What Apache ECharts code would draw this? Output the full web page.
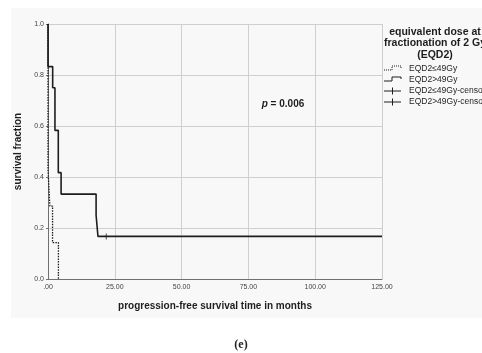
<!DOCTYPE html>
<html>
<head>
<meta charset="utf-8">
<script src="https://cdn.jsdelivr.net/npm/echarts@6/dist/echarts.min.js"></script>
<style>
  html, body { margin: 0; padding: 0; background: #fff; }
  #chart { width: 482px; height: 353px; }
</style>
</head>
<body>
<div id="chart"></div>
<script>
// Kaplan–Meier step points: [time in months, survival fraction]
const lowDoseCurve = [[0, 1], [0, 0.429], [0.7, 0.286], [1.7, 0.143], [3.9, 0]];
const highDoseCurve = [[0, 1], [0, 0.833], [1.75, 0.75], [2.6, 0.583], [3.85, 0.417],
                       [4.9, 0.333], [18, 0.25], [18.7, 0.167], [125, 0.167]];
// censored observations
const lowDoseCensored = [];
const highDoseCensored = [[21.8, 0.167]];

const seriesNames = ['EQD2\u226449Gy', 'EQD2>49Gy', 'EQD2\u226449Gy-censored', 'EQD2>49Gy-censored'];
const legendTitle = ['equivalent dose at', 'fractionation of 2 Gy', '(EQD2)'];
const xTicks = { min: 0, max: 125, interval: 25 };
const yTicks = { min: 0, max: 1, interval: 0.2 };

const FONT = '"Liberation Sans", Arial, Helvetica, sans-serif';
const INK = '#1e1e1e';

// legend key glyphs (step line for curves, cross for censor marks)
const LEG_X = 384, LEG_W = 17, LEG_TOP = 64, LEG_ROW = 11;
function stepKey(row, dashed) {
  const yMid = LEG_TOP + row * LEG_ROW + 4;
  return {
    type: 'polyline', z: 10, silent: true,
    shape: { points: [[LEG_X, yMid + 2], [LEG_X + 8, yMid + 2], [LEG_X + 8, yMid - 2],
                      [LEG_X + LEG_W, yMid - 2], [LEG_X + LEG_W, yMid]] },
    style: { stroke: INK, lineWidth: 1, fill: null, lineDash: dashed ? [1, 1] : null }
  };
}
function crossKey(row) {
  const yMid = LEG_TOP + row * LEG_ROW + 5;
  return {
    type: 'group', z: 10, silent: true,
    children: [
      { type: 'line', shape: { x1: LEG_X, y1: yMid, x2: LEG_X + LEG_W, y2: yMid },
        style: { stroke: INK, lineWidth: 1 } },
      { type: 'line', shape: { x1: LEG_X + 8.5, y1: yMid - 3.5, x2: LEG_X + 8.5, y2: yMid + 3.5 },
        style: { stroke: INK, lineWidth: 1 } }
    ]
  };
}

const chart = echarts.init(document.getElementById('chart'), null, { renderer: 'canvas' });

chart.setOption({
  backgroundColor: '#ffffff',
  animation: false,
  grid: { left: 48, right: 100, top: 24, bottom: 74, containLabel: false },
  xAxis: {
    type: 'value',
    min: xTicks.min, max: xTicks.max, interval: xTicks.interval,
    name: 'progression-free survival time in months',
    nameLocation: 'middle', nameGap: 22,
    nameTextStyle: { fontFamily: FONT, fontWeight: 'bold', fontSize: 10, color: INK },
    axisLine: { lineStyle: { color: '#707070', width: 1 } },
    axisTick: { show: false },
    axisLabel: {
      fontFamily: FONT, fontSize: 7, color: '#444', margin: 5,
      formatter: v => v === 0 ? '.00' : v.toFixed(2)
    },
    splitLine: { show: true, lineStyle: { color: '#cfcfcf', width: 1 } }
  },
  yAxis: {
    type: 'value',
    min: yTicks.min, max: yTicks.max, interval: yTicks.interval,
    name: 'survival fraction',
    nameLocation: 'middle', nameGap: 21,
    nameTextStyle: { fontFamily: FONT, fontWeight: 'bold', fontSize: 10, color: INK },
    axisLine: { show: true, lineStyle: { color: '#707070', width: 1 } },
    axisTick: { show: true, length: 2, lineStyle: { color: '#707070' } },
    axisLabel: {
      fontFamily: FONT, fontSize: 7, color: '#444', margin: 4,
      formatter: v => v.toFixed(1)
    },
    splitLine: { show: true, lineStyle: { color: '#cfcfcf', width: 1 } }
  },
  legend: {
    orient: 'vertical',
    left: LEG_X, top: LEG_TOP,
    padding: 0,
    itemWidth: LEG_W, itemHeight: 8, itemGap: 2,
    icon: 'rect',
    itemStyle: { opacity: 0 },
    textStyle: { fontFamily: FONT, fontSize: 8.5, color: INK, padding: [0, 0, 0, 3] },
    data: seriesNames
  },
  graphic: {
    elements: [
      { type: 'rect', z: -100, silent: true,
        shape: { x: 11, y: 8, width: 471, height: 310 },
        style: { fill: '#f8f8f8' } },
      { type: 'text', x: 435, y: 26, z: 10, silent: true,
        style: { text: legendTitle.join('\n'), align: 'center', verticalAlign: 'top',
                 font: 'bold 10.5px ' + FONT, fill: INK, lineHeight: 11.5 } },
      stepKey(0, true),
      stepKey(1, false),
      crossKey(2),
      crossKey(3),
      { type: 'text', x: 283, y: 104, z: 10, silent: true,
        style: {
          text: '{i|p} = 0.006',
          align: 'center', verticalAlign: 'middle',
          rich: { i: { fontStyle: 'italic', fontWeight: 'bold', fontSize: 10, fontFamily: FONT, fill: INK } },
          font: 'bold 10px ' + FONT, fill: INK
        } },
      { type: 'text', x: 241, y: 345, z: 10, silent: true,
        style: { text: '(e)', align: 'center', verticalAlign: 'middle',
                 font: 'bold 12px "Liberation Serif", "DejaVu Serif", serif', fill: '#222' } }
    ]
  },
  series: [
    {
      name: seriesNames[1], type: 'line', step: 'end', data: highDoseCurve,
      symbol: 'none', z: 3,
      lineStyle: { color: INK, width: 1.6 }, itemStyle: { color: INK }
    },
    {
      name: seriesNames[0], type: 'line', step: 'end', data: lowDoseCurve,
      symbol: 'none', z: 4,
      lineStyle: { color: INK, width: 1.3, type: [1.5, 1.2] }, itemStyle: { color: INK }
    },
    {
      name: seriesNames[2], type: 'scatter', data: lowDoseCensored,
      symbol: 'rect', symbolSize: [1, 6], itemStyle: { color: INK }
    },
    {
      name: seriesNames[3], type: 'scatter', data: highDoseCensored,
      symbol: 'rect', symbolSize: [1, 6], itemStyle: { color: INK }, z: 5
    }
  ]
});
</script>
</body>
</html>
